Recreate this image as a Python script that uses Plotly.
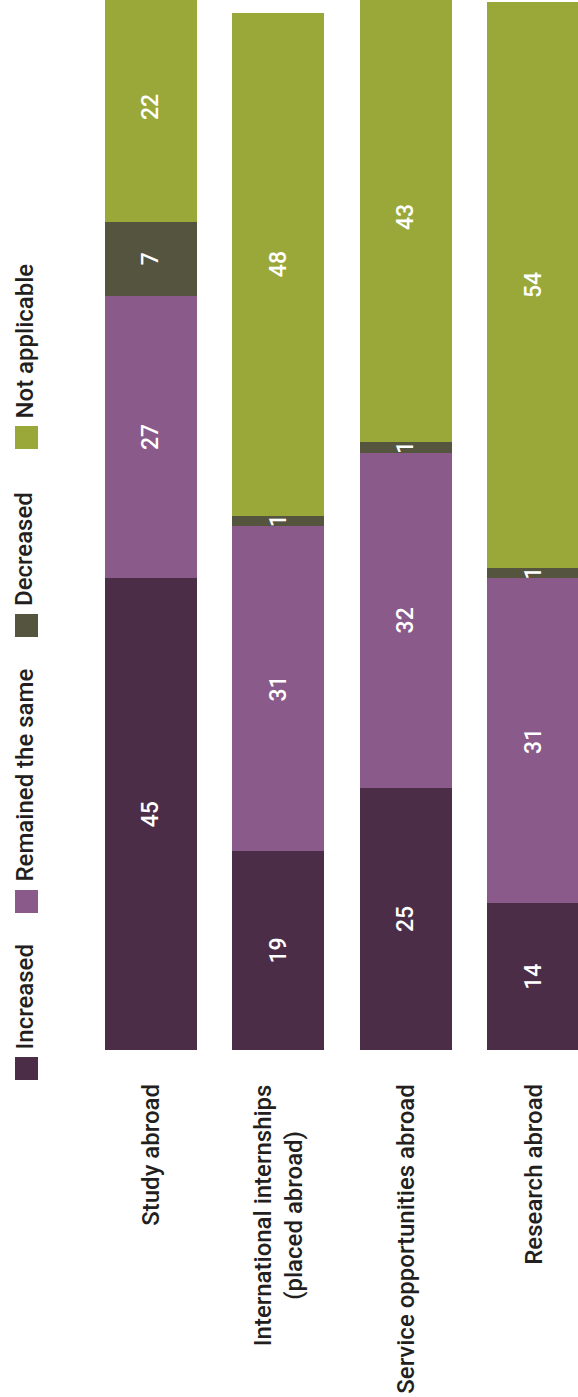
import plotly.graph_objects as go

# Survey responses (% of institutions), by type of education-abroad activity
categories = [
    "Study abroad",
    "International internships<br>(placed abroad)",
    "Service opportunities abroad",
    "Research abroad",
]
series_names = ["Increased", "Remained the same", "Decreased", "Not applicable"]
increased = [45, 19, 25, 14]
remained_same = [27, 31, 32, 31]
decreased = [7, 1, 1, 1]
not_applicable = [22, 48, 43, 54]

series_values = [increased, remained_same, decreased, not_applicable]
colors = ["#4b2d48", "#8a5a8a", "#55543f", "#9aa83a"]

FONT = "Roboto, Liberation Sans, Arial, sans-serif"
TEXT_DARK = "#231f20"

W, H = 578, 1397
M_L, M_B = 87, 347
PLOT_W, PLOT_H = W - M_L, H - M_B
STEP = 127.5  # pixel width of one category slot


def px_x(p):
    return (p - M_L) / PLOT_W


def px_y(p):
    return (PLOT_H - p) / PLOT_H


fig = go.Figure()
xs = list(range(len(categories)))
for name, vals, col in zip(series_names, series_values, colors):
    fig.add_trace(go.Bar(
        x=xs,
        y=vals,
        name=name,
        marker=dict(color=col, line=dict(width=0)),
        text=[str(v) for v in vals],
        textposition="inside",
        insidetextanchor="middle",
        textangle=-90,
        textfont=dict(family=FONT, size=23, color="white", weight=500),
        cliponaxis=True,
        showlegend=False,
    ))

shapes = []
annotations = []

# Legend drawn sideways in the left margin: swatch below, label above it
legend_swatch_top = [1057, 890, 614, 426]
SW = 23
for name, col, top in zip(series_names, colors, legend_swatch_top):
    shapes.append(dict(
        type="rect", xref="paper", yref="paper",
        x0=px_x(15), x1=px_x(15 + SW), y0=px_y(top + SW), y1=px_y(top),
        fillcolor=col, line=dict(width=0),
    ))
    annotations.append(dict(
        xref="paper", yref="paper", x=px_x(24), y=px_y(top - 6),
        xanchor="center", yanchor="bottom", text=name, textangle=-90,
        showarrow=False,
        font=dict(family=FONT, size=24, color=TEXT_DARK, weight=500),
    ))

# Category labels under the bars, reading upward
for i, cat in enumerate(categories):
    annotations.append(dict(
        xref="x", yref="paper", x=i, y=px_y(1082),
        xanchor="center", yanchor="top", text=cat, textangle=-90,
        align="center", showarrow=False,
        font=dict(family=FONT, size=24, color=TEXT_DARK, weight=500),
    ))

fig.update_layout(
    barmode="stack",
    bargap=0.28,
    width=W,
    height=H,
    margin=dict(l=M_L, r=0, t=0, b=M_B),
    paper_bgcolor="white",
    plot_bgcolor="white",
    uniformtext=dict(minsize=23, mode="show"),
    xaxis=dict(range=[-0.5, PLOT_W / STEP - 0.5], visible=False, fixedrange=True),
    yaxis=dict(range=[0, PLOT_H / 10.479], visible=False, fixedrange=True),
    shapes=shapes,
    annotations=annotations,
    font=dict(family=FONT),
)

fig.write_html("out.html")
